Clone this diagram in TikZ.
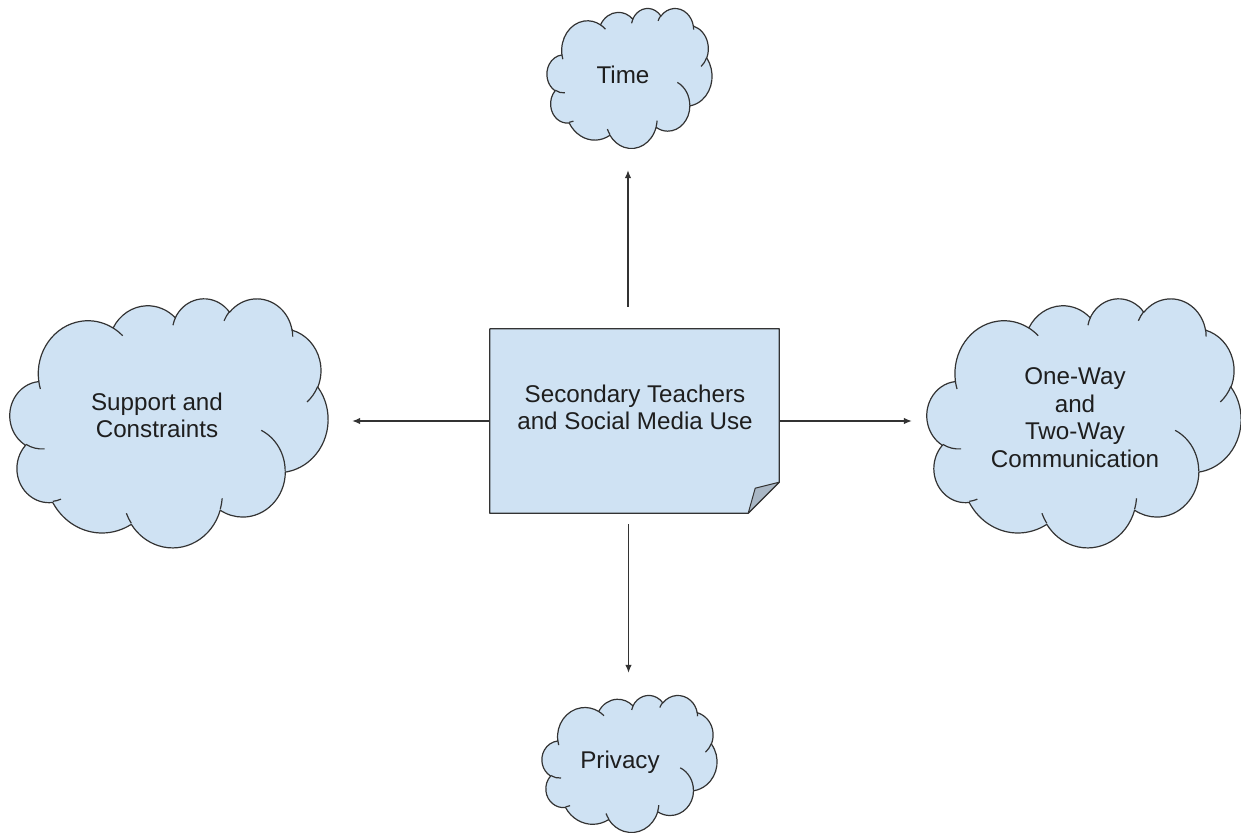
\documentclass[tikz,border=0pt]{standalone}
\usepackage{fontspec}
\setmainfont{Liberation Sans}
\usetikzlibrary{arrows.meta}
\definecolor{cfill}{HTML}{CFE2F3}
\definecolor{cline}{HTML}{333333}
\definecolor{cfold}{HTML}{A9B7C5}
\definecolor{ctext}{HTML}{1E1E1E}
% elliptical arc given OOXML-style visual start angle and sweep
\newcommand\carc[4]{arc[x radius=#1, y radius=#2, start angle={atan2((#1)*sin(#3),(#2)*cos(#3))}, delta angle={mod(atan2((#1)*sin((#3)+(#4)),(#2)*cos((#3)+(#4)))-atan2((#1)*sin(#3),(#2)*cos(#3))+720,360)}]}
\newcommand\cloudat[4]{%
  \begin{scope}[shift={(#1,#2)}, xscale=#3/43.2, yscale=#4/43.2]
    \path[cloudline, fill=cfill] (3.9,14.37)
      \carc{6.753}{9.19}{-190.4875}{123.7805}
      \carc{5.333}{7.267}{-144.1024}{89.9452}
      \carc{4.365}{5.945}{-145.8079}{99.7230}
      \carc{4.857}{6.595}{-130.9861}{117.2417}
      \carc{5.333}{7.273}{-78.7089}{109.0269}
      \carc{6.775}{9.22}{-46.2673}{130.269}
      \carc{5.785}{7.867}{0.625}{114.0333}
      \carc{6.752}{9.215}{22.4516}{115.1726}
      \carc{7.72}{10.543}{66.2426}{75.711}
      \carc{4.36}{5.918}{-274.9421}{146.7356}
      \carc{4.345}{5.945}{-246.8285}{152.5189}
      -- cycle;
    \path[cloudline]
      (4.693,26.177) \carc{4.345}{5.945}{86.742}{26.4295}
      (6.928,34.899) \carc{4.36}{5.918}{73.6105}{11.4475}
      (16.478,39.09) \carc{6.752}{9.215}{137.6242}{14.0811}
      (28.827,34.751) \carc{6.752}{9.215}{6.4533}{15.9984}
      (34.129,22.954) \carc{5.785}{7.867}{-70.2924}{70.9174}
      (41.798,15.354) \carc{5.333}{7.273}{30.318}{27.7515}
      (38.324,5.426) \carc{4.857}{6.595}{-13.7443}{14.8589}
      (29.078,3.952) \carc{4.857}{6.595}{-149.1815}{18.1954}
      (22.141,4.72) \carc{4.365}{5.945}{-163.4943}{17.6864}
      (14.0,5.192) \carc{6.753}{9.19}{-66.707}{12.3194}
      (4.127,15.789) \carc{6.753}{9.19}{157.6544}{11.8582};
  \end{scope}}
\begin{document}
\begin{tikzpicture}[x=1pt,y=-1pt,
  cloudline/.style={draw=cline, line width=1.2pt, line join=round},
  hit/.style={draw=none, inner sep=0pt, rectangle},
  lbl/.style={text=ctext, align=center, inner sep=0pt, font=\fontsize{24.2}{27.5}\selectfont},
  conn/.style={draw=cline, line width=1.2pt, -{Latex[length=8pt,width=6.5pt]}}]
\useasboundingbox (0,0) rectangle (1241,833);

% clouds
\cloudat{547}{8}{165}{140}
\cloudat{542}{695}{175}{137}
\cloudat{10}{298}{318}{249}
\cloudat{927}{298}{314}{249}

\node[hit, minimum width=163pt, minimum height=140pt] (time) at (628,78) {};
\node[hit, minimum width=173pt, minimum height=137pt] (priv) at (628.5,763.5) {};
\node[hit, minimum width=318pt, minimum height=249pt] (sc) at (169,422.5) {};
\node[hit, minimum width=314pt, minimum height=249pt] (ow) at (1084,422.5) {};

\node[lbl] (timetxt) at (623,74.6) {Time};
\node[lbl] (privtxt) at (620,762) {Privacy};
\node[lbl] (sctxt) at (157,415.4) {Support and\\Constraints};
\node[lbl] (owtxt) at (1075,417.6) {One-Way\\and\\Two-Way\\Communication};

% central note
\node[hit, minimum width=289pt, minimum height=184pt] (box) at (634.5,421) {};
\path[fill=cfill, draw=cline, line width=1.2pt, line join=round]
  (box.north west) -- (box.north east) -- ([yshift=31pt]box.south east)
  -- ([xshift=-31pt]box.south east) -- (box.south west) -- cycle;
\path[fill=cfold, draw=cline, line width=1pt, line join=round]
  ([yshift=31pt]box.south east) .. controls ([xshift=-12pt,yshift=28pt]box.south east) .. ([xshift=-24pt,yshift=25pt]box.south east)
  -- ([xshift=-31pt]box.south east) -- cycle;
\node[lbl] (boxtxt) at (635,407.4) {Secondary Teachers\\and Social Media Use};

% connectors
\draw[conn, shorten <=22pt, shorten >=22pt] (box.north -| time.south) -- (time.south);
\draw[conn, shorten <=11pt, shorten >=22pt] (box.south -| priv.north) -- (priv.north);
\draw[conn, shorten >=24pt] (box.west) -- (box.west -| sc.east);
\draw[conn, shorten >=15pt] (box.east) -- (box.east -| ow.west);
\end{tikzpicture}
\end{document}
